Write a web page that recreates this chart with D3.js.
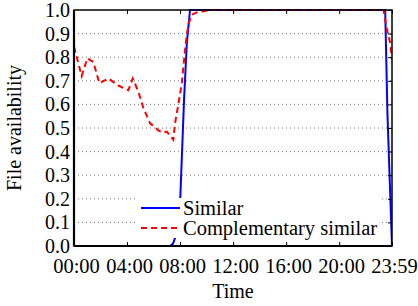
<!DOCTYPE html>
<html>
<head>
<meta charset="utf-8">
<script src="https://cdn.jsdelivr.net/npm/d3@7"></script>
<style>
  body { margin: 0; background: #fff; }
  text { font-family: "Liberation Serif", "Times New Roman", serif; fill: #000; }
</style>
</head>
<body>
<div id="chart"></div>
<script>
// data (time in hours, value = file availability)
var similarTime = [0, 7.25, 7.47, 7.75, 7.92, 8.0, 8.30, 8.51, 8.75, 23.47, 23.64, 23.983];
var similarValue = [0, 0, 0.01, 0.055, 0.13, 0.18, 0.62, 0.86, 1.0, 1.0, 0.56, 0.0];

var complTime = [0, 0.58, 1.0, 1.46, 1.91, 2.59, 3.34, 4.10, 4.43, 4.85, 5.23, 5.74, 6.36, 6.72, 7.0, 7.49,
    7.62, 7.87, 8.13, 8.25, 8.45, 8.63, 8.88, 9.26, 9.74, 10.26, 23.34, 23.55, 23.85, 23.983];
var complValue = [0.845, 0.72, 0.795, 0.78, 0.69, 0.71, 0.68, 0.66, 0.71, 0.655, 0.585, 0.52, 0.49, 0.48, 0.485, 0.45,
    0.52, 0.60, 0.69, 0.76, 0.87, 0.94, 0.98, 0.99, 0.995, 1.0, 1.0, 0.93, 0.86, 0.79];

var xTickValues = [0, 4, 8, 12, 16, 20, 23.983];
var xTickLabels = ["00:00", "04:00", "08:00", "12:00", "16:00", "20:00", "23:59"];
var yTickValues = [0, 0.1, 0.2, 0.3, 0.4, 0.5, 0.6, 0.7, 0.8, 0.9, 1.0];
var seriesNames = ["Similar", "Complementary similar"];

// sizes
var svgWidth = 418;
var svgHeight = 306;
var margin = { top: 10, right: 26, bottom: 60, left: 74 };
var width = svgWidth - margin.left - margin.right;
var height = svgHeight - margin.top - margin.bottom;

var svg = d3.select('#chart')
    .append('svg')
    .attr('width', svgWidth)
    .attr('height', svgHeight);

var g = svg.append('g')
    .attr('transform', `translate(${margin.left}, ${margin.top})`);

var xScale = d3.scaleLinear().domain([0, 23.983]).range([0, width]);
var yScale = d3.scaleLinear().domain([0, 1]).range([height, 0]);

// dotted grid
g.selectAll('.grid')
    .data(yTickValues.filter(d => d > 0 && d < 1))
    .enter()
    .append('line')
    .attr('x1', 0)
    .attr('x2', width)
    .attr('y1', d => yScale(d))
    .attr('y2', d => yScale(d))
    .attr('stroke', '#777')
    .attr('stroke-width', 1)
    .attr('stroke-dasharray', '1,3');

// clip for lines
svg.append('clipPath').attr('id', 'clip')
    .append('rect').attr('x', 0).attr('y', -2).attr('width', width).attr('height', height + 2);

var line = d3.line()
    .x(d => xScale(d[0]))
    .y(d => yScale(d[1]));

var similar = similarTime.map((t, i) => [t, similarValue[i]]);
var compl = complTime.map((t, i) => [t, complValue[i]]);

g.append('path')
    .datum(similar)
    .attr('clip-path', 'url(#clip)')
    .attr('d', line)
    .attr('fill', 'none')
    .attr('stroke', '#0000ff')
    .attr('stroke-width', 2);

g.append('path')
    .datum(compl)
    .attr('clip-path', 'url(#clip)')
    .attr('d', line)
    .attr('fill', 'none')
    .attr('stroke', '#ff0000')
    .attr('stroke-width', 2)
    .attr('stroke-dasharray', '6,4');

// legend (white box, no border)
var legend = g.append('g').attr('transform', 'translate(64, 188)');
legend.append('rect')
    .attr('x', 0).attr('y', 0)
    .attr('width', 244).attr('height', 40)
    .attr('fill', '#fff');
legend.append('line')
    .attr('x1', 3).attr('x2', 42).attr('y1', 10).attr('y2', 10)
    .attr('stroke', '#0000ff').attr('stroke-width', 2);
legend.append('line')
    .attr('x1', 3).attr('x2', 42).attr('y1', 30).attr('y2', 30)
    .attr('stroke', '#ff0000').attr('stroke-width', 2).attr('stroke-dasharray', '6,4');
legend.selectAll('.ltext')
    .data(seriesNames)
    .enter()
    .append('text')
    .attr('x', 45)
    .attr('y', (d, i) => 10 + i * 20)
    .attr('dy', '0.33em')
    .style('font-size', '20.5px')
    .text(d => d);

// frame
g.append('rect')
    .attr('width', width).attr('height', height)
    .attr('fill', 'none').attr('stroke', '#000').attr('stroke-width', 1.5);
g.append('line').attr('x1', 0).attr('x2', 0).attr('y1', 0).attr('y2', height)
    .attr('stroke', '#000').attr('stroke-width', 2.2);
g.append('line').attr('x1', 0).attr('x2', width).attr('y1', height).attr('y2', height)
    .attr('stroke', '#000').attr('stroke-width', 2.2);

// axes
var xAxis = d3.axisBottom(xScale)
    .tickValues(xTickValues)
    .tickFormat((d, i) => xTickLabels[i])
    .tickSizeInner(-4).tickSizeOuter(0).tickPadding(12);
var xAxisG = g.append('g').attr('transform', `translate(0, ${height})`).call(xAxis);

var yAxis = d3.axisLeft(yScale)
    .tickValues(yTickValues)
    .tickFormat(d3.format('.1f'))
    .tickSizeInner(0).tickSizeOuter(0).tickPadding(4);
var yAxisG = g.append('g').call(yAxis);

var topAxisG = g.append('g').call(d3.axisTop(xScale).tickValues(xTickValues).tickFormat('').tickSizeInner(-4).tickSizeOuter(0));
var rightAxisG = g.append('g').attr('transform', `translate(${width}, 0)`)
    .call(d3.axisLeft(yScale).tickValues(yTickValues).tickFormat('').tickSizeInner(4).tickSizeOuter(0));

[xAxisG, yAxisG, topAxisG, rightAxisG].forEach(a => {
    a.select('.domain').remove();
    a.selectAll('line').attr('stroke', '#000').attr('stroke-width', 1);
    a.selectAll('text').style('font-size', '20px').style('font-family', '"Liberation Serif", serif').attr('fill', '#000');
});
xAxisG.selectAll('text').style('font-size', '20.5px').attr('dx', 2);

// axis titles
svg.append('text')
    .attr('x', margin.left + width / 2)
    .attr('y', 298)
    .attr('text-anchor', 'middle')
    .style('font-size', '20px')
    .text('Time');

svg.append('text')
    .attr('transform', 'translate(21, 128) rotate(-90)')
    .attr('text-anchor', 'middle')
    .style('font-size', '20px')
    .text('File availability');
</script>
</body>
</html>
